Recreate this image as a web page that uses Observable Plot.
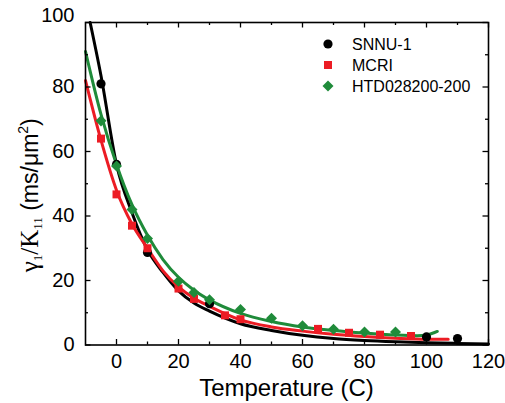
<!DOCTYPE html>
<html><head><meta charset="utf-8">
<script src="https://cdn.jsdelivr.net/npm/d3@7"></script>
<script src="https://cdn.jsdelivr.net/npm/@observablehq/plot@0.6"></script>
<style>body{margin:0;background:#fff} svg{display:block}</style>
</head><body><div id="chart"></div>
<script>
// ticks
const xMajor = [0, 20, 40, 60, 80, 100, 120];
const xMinor = [10, 30, 50, 70, 90, 110];
const yMajor = [0, 20, 40, 60, 80, 100];
const yMinor = [10, 30, 50, 70, 90];
const xDomain = [-10, 120];
const yDomain = [0, 100];

// series
const series = ["SNNU-1", "MCRI", "HTD028200-200"];
const colors = ["#000000", "#ec1c24", "#1f8b3a"];

// measured points
const snnuT = [-5, 0, 10, 30, 100, 110];
const snnuV = [81, 56, 28.7, 12.8, 2.5, 2];
const mcriT = [-5, 0, 5, 10, 20, 25, 35, 40, 65, 75, 85, 95];
const mcriV = [64, 46.7, 37, 30, 17.5, 14.3, 9.2, 8, 5, 3.8, 3.2, 2.8];
const htdT = [-5, 0, 5, 10, 20, 25, 30, 40, 50, 60, 70, 80, 90];
const htdV = [69.5, 55.5, 42, 33, 19.8, 16.3, 14, 11, 8.3, 6, 4.9, 4, 4];

// fitted curves
const snnuFitT = [-8.5, -5, 0, 5, 10, 15, 20, 25, 30, 40, 50, 60, 70, 80, 90, 100, 110, 120];
const snnuFitV = [100, 83.5, 56, 41, 29.5, 22.5, 16.8, 13, 10.5, 6.6, 4.5, 3, 2, 1.4, 1, 0.7, 0.5, 0.3];
const mcriFitT = [-10, -5, 0, 5, 10, 15, 20, 25, 30, 40, 50, 60, 70, 80, 90, 100, 107];
const mcriFitV = [82, 63.5, 48, 37.5, 30, 23, 18, 14.5, 12, 7.8, 5.6, 4.3, 3.3, 2.6, 2.1, 1.8, 1.8];
const htdFitT = [-10, -5, 0, 5, 10, 15, 20, 25, 30, 40, 50, 60, 70, 80, 90, 97, 100, 103.5];
const htdFitV = [91, 71.5, 56, 43.5, 34, 26.5, 21, 17, 14, 9.8, 7.3, 5.6, 4.5, 3.7, 3.1, 2.9, 3.1, 4.2];

const pts = [
  ...snnuT.map((t, i) => ({t, v: snnuV[i], s: series[0]})),
  ...mcriT.map((t, i) => ({t, v: mcriV[i], s: series[1]})),
  ...htdT.map((t, i) => ({t, v: htdV[i], s: series[2]}))
];
const fits = [
  ...snnuFitT.map((t, i) => ({t, v: snnuFitV[i], s: series[0]})),
  ...mcriFitT.map((t, i) => ({t, v: mcriFitV[i], s: series[1]})),
  ...htdFitT.map((t, i) => ({t, v: htdFitV[i], s: series[2]}))
];

const diamond = {
  draw(ctx, size) {
    const a = Math.sqrt(size / 2);
    ctx.moveTo(0, -a); ctx.lineTo(a, 0); ctx.lineTo(0, a); ctx.lineTo(-a, 0); ctx.closePath();
  }
};
const symbols = [d3.symbolCircle, d3.symbolSquare, diamond];
const radii = [4.6, 4.5, 4.4];

const W = 505, H = 403, mL = 85, mR = 17, mT = 22, mB = 58.5;
const pw = W - mL - mR, ph = H - mT - mB;
const maj = 5.5, mnr = 3;

const font = "Liberation Sans, Arial, Helvetica, sans-serif";
const serif = "Liberation Serif, Times New Roman, serif";

const marks = [];
series.forEach((s, i) => {
  marks.push(Plot.line(fits.filter(d => d.s === s), {x: "t", y: "v", stroke: colors[i], strokeWidth: 3, curve: "monotone-x"}));
});
series.forEach((s, i) => {
  marks.push(Plot.dot(pts.filter(d => d.s === s), {x: "t", y: "v", fill: colors[i], stroke: "none", r: radii[i], symbol: () => symbols[i]}));
});

const chart = Plot.plot({
  width: W, height: H,
  marginLeft: mL, marginRight: mR, marginTop: mT, marginBottom: mB,
  style: {fontFamily: font, background: "#fff", color: "#000"},
  x: {domain: xDomain, label: null},
  y: {domain: yDomain, label: null},
  symbol: {type: "identity"},
  marks: [
    ...marks,
    // inward ticks bottom/top
    Plot.ruleX(xMajor, {x: d => d, insetTop: ph - maj, stroke: "#000", strokeWidth: 1.3}),
    Plot.ruleX(xMinor, {x: d => d, insetTop: ph - mnr, stroke: "#000", strokeWidth: 1.3}),
    Plot.ruleX(xMajor, {x: d => d, insetBottom: ph - maj, stroke: "#000", strokeWidth: 1.3}),
    Plot.ruleX(xMinor, {x: d => d, insetBottom: ph - mnr, stroke: "#000", strokeWidth: 1.3}),
    // inward ticks left/right
    Plot.ruleY(yMajor, {y: d => d, insetRight: pw - maj, stroke: "#000", strokeWidth: 1.3}),
    Plot.ruleY(yMinor, {y: d => d, insetRight: pw - mnr, stroke: "#000", strokeWidth: 1.3}),
    Plot.ruleY(yMajor, {y: d => d, insetLeft: pw - maj, stroke: "#000", strokeWidth: 1.3}),
    Plot.ruleY(yMinor, {y: d => d, insetLeft: pw - mnr, stroke: "#000", strokeWidth: 1.3}),
    Plot.axisX(xMajor, {tickSize: 0, tickPadding: 9, fontSize: 20, label: null}),
    Plot.axisY(yMajor.slice(0, -1), {tickSize: 0, tickPadding: 11, fontSize: 20, label: null}),
    Plot.axisY(yMajor.slice(-1), {tickSize: 0, tickPadding: 11, fontSize: 20, dy: -7, label: null}),
    Plot.frame({stroke: "#000", strokeWidth: 1.6})
  ]
});

const svg = d3.select(chart);
// x label
svg.append("text").attr("x", mL + pw / 2).attr("y", 396).attr("text-anchor", "middle")
  .attr("font-family", font).attr("font-size", 24).attr("fill", "#000").text("Temperature (C)");
// y label
const yl = svg.append("text").attr("transform", `translate(38,${mT + ph / 2 + 12}) rotate(-90)`)
  .attr("text-anchor", "middle").attr("font-family", font).attr("font-size", 23).attr("fill", "#000");
yl.append("tspan").attr("font-family", serif).attr("font-size", 25).text("γ");
yl.append("tspan").attr("font-family", serif).attr("font-size", 13).attr("dy", 4).text("1");
yl.append("tspan").attr("font-family", serif).attr("font-size", 25).attr("dy", -4).text("/K");
yl.append("tspan").attr("font-family", serif).attr("font-size", 13).attr("dy", 4).text("11");
yl.append("tspan").attr("dy", -4).text(" (ms/μm");
yl.append("tspan").attr("font-size", 14).attr("dy", -10).text("2");
yl.append("tspan").attr("dy", 10).text(")");

// legend
const lg = svg.append("g");
const rows = [44, 65, 86];
series.forEach((s, i) => {
  lg.append("path").attr("transform", `translate(328,${rows[i]})`)
    .attr("d", d3.symbol(symbols[i], Math.PI * radii[i] * radii[i])())
    .attr("fill", colors[i]);
  lg.append("text").attr("x", 352).attr("y", rows[i]).attr("dy", "0.35em")
    .attr("text-anchor", "start")
    .attr("font-family", font).attr("font-size", 16).attr("fill", "#000").text(s);
});

document.getElementById("chart").appendChild(chart);
</script>
</body></html>
